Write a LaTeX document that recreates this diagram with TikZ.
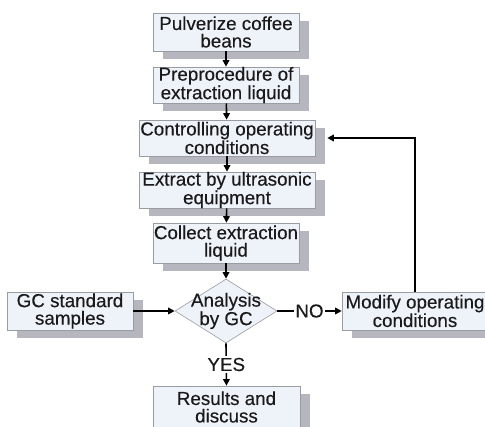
\documentclass[tikz,border=0pt]{standalone}
\usepackage{fontspec}
\setmainfont[FakeBold=0.3]{Liberation Sans}
\usetikzlibrary{arrows.meta,shapes.geometric,shadows}
\definecolor{boxfill}{HTML}{EEF2F9}
\definecolor{boxline}{HTML}{9A9CA4}
\definecolor{shadowgray}{HTML}{B6B6BE}
\definecolor{ink}{HTML}{1A1A1A}
\begin{document}
\begin{tikzpicture}[x=1pt,y=-1pt,
  lbl/.style={font=\fontsize{18.8}{17.5}\selectfont, text=ink, align=center, inner sep=0pt},
  box/.style={lbl, draw=boxline, line width=0.6pt, fill=boxfill,
    general shadow={fill=shadowgray, shadow xshift=10pt, shadow yshift=-8pt}},
  dshape/.style={diamond, draw=boxline, line width=0.6pt, fill=boxfill, inner sep=0pt,
    minimum width=102pt, minimum height=64pt},
  arr/.style={line width=1.6pt, -{Triangle[length=6.5pt,width=6.5pt]}},
  onl/.style={lbl, fill=white, inner sep=1.5pt}]
\clip (0,0) rectangle (485,427);
\fill[white] (0,0) rectangle (485,427);
\node[box, minimum width=146pt, minimum height=38pt] (pul) at (226,32) {Pulverize coffee\\beans};
\node[box, minimum width=146pt, minimum height=36pt] (pre) at (226,85) {Preprocedure of\\extraction liquid};
\node[box, minimum width=176pt, minimum height=36pt] (ctrl) at (227,138) {Controlling operating\\conditions};
\node[box, minimum width=176pt, minimum height=36pt] (ext) at (227,190) {Extract by ultrasonic\\equipment};
\node[box, minimum width=146pt, minimum height=40pt] (col) at (226,243) {Collect extraction\\liquid};
\node[box, minimum width=126pt, minimum height=38pt] (gc) at (70,311) {GC standard\\samples};
\node[dshape] (dia) at (226,311) {};
\node[lbl] (diat) at (dia.center) {Analysis\\by GC};
\node[box, minimum width=146pt, minimum height=38pt] (mod) at (415,311) {Modify operating\\conditions};
\node[box, minimum width=147pt, minimum height=42pt] (res) at (226.5,407) {Results and\\discuss};
\draw[arr] (pul) -- (pre);
\draw[arr] (pre) -- (ctrl);
\draw[arr] (ctrl) -- (ext);
\draw[arr] (ext) -- (col);
\draw[arr] (col.south) -- (dia.north);
\draw[arr] (gc.east) -- (dia.west);
\draw[arr] (dia.east) -- node[onl] (no) {NO} (mod.west);
\draw[arr] (dia.south) -- node[onl] (yes) {YES} (res.north);
\draw[arr] (mod.north) |- ([xshift=12pt]ctrl.east);
\end{tikzpicture}
\end{document}
